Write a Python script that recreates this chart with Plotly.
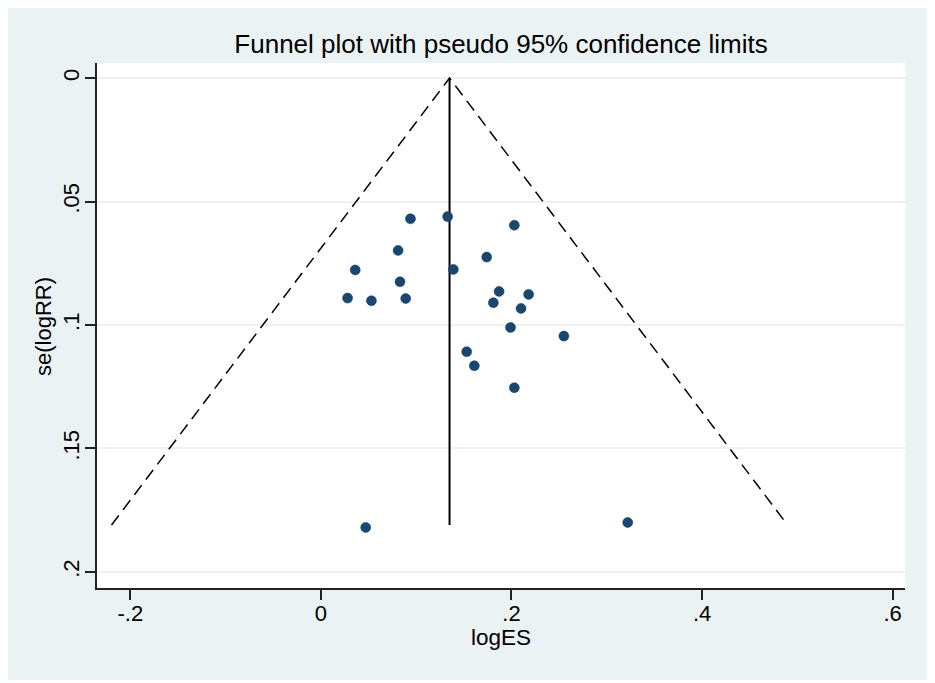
import numpy as np
import plotly.graph_objects as go

# study effect sizes and standard errors
log_es = [0.094, 0.133, 0.203, 0.081, 0.174, 0.036, 0.139, 0.083, 0.187, 0.218, 0.028,
          0.053, 0.089, 0.181, 0.210, 0.199, 0.255, 0.153, 0.161, 0.203, 0.047, 0.322]
se_log_rr = [0.0570, 0.0561, 0.0596, 0.0698, 0.0725, 0.0777, 0.0775, 0.0825, 0.0864, 0.0876, 0.0891,
             0.0902, 0.0893, 0.0910, 0.0933, 0.1010, 0.1045, 0.1108, 0.1165, 0.1254, 0.1820, 0.1800]

pooled_es = 0.135
se_max = 0.181
z95 = 1.96

x_tickvals = [-0.2, 0, 0.2, 0.4, 0.6]
x_ticktext = ['-.2', '0', '.2', '.4', '.6']
y_tickvals = [0, 0.05, 0.1, 0.15, 0.2]
y_ticktext = ['0', '.05', '.1', '.15', '.2']

FONT = 'Arial, Liberation Sans, sans-serif'
BG = '#eaf2f3'
MARKER = '#1a476f'

# page body has an 8px margin, so the figure is 8px smaller than the window
W, H = 927, 675
L, R, T, B = 89, 30, 55, 95
pw, ph = W - L - R, H - T - B

def px_x(p):
    return (p - L) / pw

def px_y(p):
    return (H - B - p) / ph

fig = go.Figure()

# pseudo 95% confidence limits
fig.add_trace(go.Scatter(x=[pooled_es - z95 * se_max, pooled_es, pooled_es + z95 * se_max],
                         y=[se_max, 0, se_max], mode='lines',
                         line=dict(color='black', width=1.5, dash='12px,7px'), hoverinfo='skip'))
fig.add_trace(go.Scatter(x=[pooled_es, pooled_es], y=[0, se_max], mode='lines',
                         line=dict(color='black', width=2), hoverinfo='skip'))
fig.add_trace(go.Scatter(x=log_es, y=se_log_rr, mode='markers',
                         marker=dict(color=MARKER, size=10, line=dict(color='#123a5c', width=0.5))))

fig.update_layout(
    width=W, height=H,
    margin=dict(l=L, r=R, t=T, b=B),
    paper_bgcolor='white', plot_bgcolor='white',
    showlegend=False,
    font=dict(family=FONT, size=21, color='black'),
    title=dict(text='Funnel plot with pseudo 95% confidence limits', x=0.5, xref='paper',
               y=1 - 36 / H, yanchor='middle', font=dict(size=26, color='black')),
)

fig.update_xaxes(range=[-0.235, 0.613], tickvals=x_tickvals, ticktext=x_ticktext,
                 showgrid=False, zeroline=False, showline=True, linecolor='#222', linewidth=1.5,
                 ticks='outside', ticklen=10, tickwidth=1.5, tickcolor='#222',
                 ticklabelstandoff=-5, tickfont=dict(size=22))
fig.update_yaxes(range=[0.2065, -0.0061], tickvals=y_tickvals, ticktext=y_ticktext,
                 showgrid=True, gridcolor=BG, gridwidth=1.5, zeroline=False,
                 showline=True, linecolor='#222', linewidth=1.5,
                 ticks='outside', ticklen=10, tickwidth=1.5, tickcolor='#222',
                 tickangle=-90, ticklabelstandoff=-3, tickfont=dict(size=22))

# graph region background with thin white border
fig.add_shape(type='rect', xref='paper', yref='paper', layer='below',
              x0=px_x(0), x1=px_x(922), y0=px_y(672), y1=px_y(0),
              fillcolor=BG, line=dict(width=0))
fig.add_shape(type='rect', xref='paper', yref='paper', layer='below',
              x0=0, x1=1, y0=0, y1=1, fillcolor='white', line=dict(width=0))

fig.add_annotation(text='logES', xref='paper', yref='paper', x=0.5, y=px_y(629),
                   yanchor='middle', showarrow=False, font=dict(size=22.5))
fig.add_annotation(text='se(logRR)', xref='paper', yref='paper', x=px_x(35), y=px_y(319),
                   xanchor='center', yanchor='middle', textangle=-90, showarrow=False,
                   font=dict(size=22))

fig.write_html('out.html')
